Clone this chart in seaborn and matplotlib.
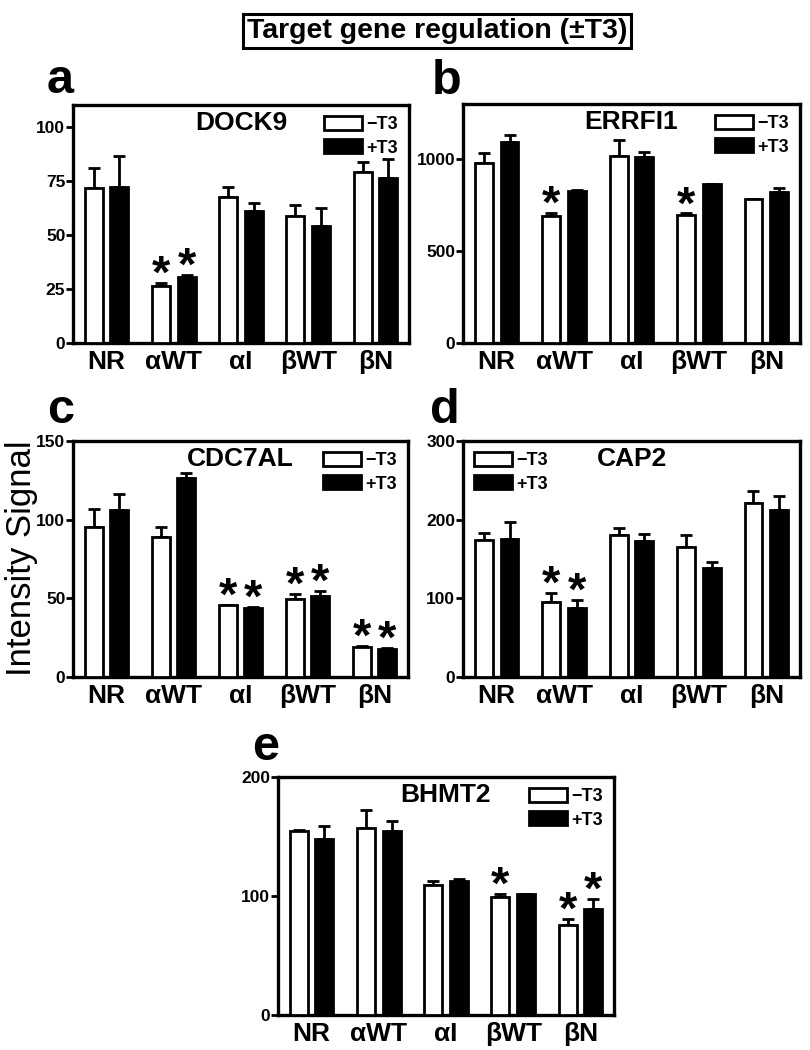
import numpy as np
import pandas as pd
import matplotlib
matplotlib.use("Agg")
import matplotlib.pyplot as plt
from matplotlib.container import BarContainer
import seaborn as sns

# ---------------- data ----------------
groups = ["NR", "αWT", "αI", "βWT", "βN"]
treatments = ["\u2212T3", "+T3"]

dock9_minus = [71.5, 26.2, 67.7, 58.5, 78.9]
dock9_plus = [72.3, 30.3, 61.0, 54.3, 76.2]
dock9_err_minus = [9.3, 1.5, 4.3, 5.3, 4.9]
dock9_err_plus = [14.3, 1.2, 3.6, 8.0, 8.7]

errfi1_minus = [978, 691, 1015, 696, 782]
errfi1_plus = [1091, 827, 1013, 864, 824]
errfi1_err_minus = [55, 18, 89, 9, 3]
errfi1_err_plus = [40, 4, 27, 2, 20]

cdc7al_minus = [95.5, 89.2, 45.6, 49.4, 19.0]
cdc7al_plus = [105.9, 126.8, 43.7, 51.3, 17.7]
cdc7al_err_minus = [11.4, 6.1, 0.3, 3.4, 0.9]
cdc7al_err_plus = [10.5, 2.9, 0.7, 3.4, 0.7]

cap2_minus = [174, 95, 181, 165, 221]
cap2_plus = [176, 88, 173, 139, 212]
cap2_err_minus = [8.5, 11.5, 8, 15, 15]
cap2_err_plus = [21, 10.5, 9, 7.5, 18]

bhmt2_minus = [155, 157.5, 109.4, 99.3, 76]
bhmt2_plus = [148, 154.7, 113, 101.5, 89]
bhmt2_err_minus = [0.3, 14.5, 3.6, 2.5, 4.6]
bhmt2_err_plus = [11, 8.1, 1.7, 0.3, 8.3]

# significance flags (minus, plus)
dock9_sig = [[0, 1, 0, 0, 0], [0, 1, 0, 0, 0]]
errfi1_sig = [[0, 1, 0, 1, 0], [0, 0, 0, 0, 0]]
cdc7al_sig = [[0, 0, 1, 1, 1], [0, 0, 1, 1, 1]]
cap2_sig = [[0, 1, 0, 0, 0], [0, 1, 0, 0, 0]]
bhmt2_sig = [[0, 0, 0, 1, 1], [0, 0, 0, 0, 1]]

# ---------------- style ----------------
sns.set_theme(style="ticks")
plt.rcParams["font.family"] = ["Liberation Sans", "DejaVu Sans"]
plt.rcParams["text.color"] = "black"
plt.rcParams["axes.labelcolor"] = "black"
plt.rcParams["xtick.color"] = "black"
plt.rcParams["ytick.color"] = "black"
plt.rcParams["axes.edgecolor"] = "black"

W, H = 810, 1050
fig = plt.figure(figsize=(W / 100, H / 100), dpi=100)


def px_axes(left, top, right, bottom):
    return fig.add_axes([left / W, 1 - bottom / H, (right - left) / W, (bottom - top) / H])


panels = [
    dict(name="DOCK9", m=dock9_minus, p=dock9_plus, em=dock9_err_minus, ep=dock9_err_plus,
         sig=dock9_sig, ymax=110, ticks=[0, 25, 50, 75, 100], box=(73, 105, 409, 343),
         loc="upper right", letter="a", lpos=(47, 93)),
    dict(name="ERRFI1", m=errfi1_minus, p=errfi1_plus, em=errfi1_err_minus, ep=errfi1_err_plus,
         sig=errfi1_sig, ymax=1300, ticks=[0, 500, 1000], box=(463, 104, 800, 343),
         loc="upper right", letter="b", lpos=(432, 94)),
    dict(name="CDC7AL", m=cdc7al_minus, p=cdc7al_plus, em=cdc7al_err_minus, ep=cdc7al_err_plus,
         sig=cdc7al_sig, ymax=150, ticks=[0, 50, 100, 150], box=(73, 441, 408, 677),
         loc="upper right", letter="c", lpos=(47, 423)),
    dict(name="CAP2", m=cap2_minus, p=cap2_plus, em=cap2_err_minus, ep=cap2_err_plus,
         sig=cap2_sig, ymax=300, ticks=[0, 100, 200, 300], box=(463, 441, 800, 677),
         loc="upper left", letter="d", lpos=(430, 423)),
    dict(name="BHMT2", m=bhmt2_minus, p=bhmt2_plus, em=bhmt2_err_minus, ep=bhmt2_err_plus,
         sig=bhmt2_sig, ymax=200, ticks=[0, 100, 200], box=(278, 777, 614, 1015),
         loc="upper right", letter="e", lpos=(252, 760)),
]

for P in panels:
    ax = px_axes(*P["box"])
    df = pd.DataFrame({
        "group": groups * 2,
        "treat": [treatments[0]] * 5 + [treatments[1]] * 5,
        "value": list(P["m"]) + list(P["p"]),
    })
    sns.barplot(data=df, x="group", y="value", hue="treat", order=groups,
                hue_order=treatments, palette=["white", "black"], width=0.76, gap=0.3,
                edgecolor="black", linewidth=2.0, errorbar=None, ax=ax, legend=True,
                zorder=3)
    bar_conts = [c for c in ax.containers if isinstance(c, BarContainer)]
    errs = [P["em"], P["ep"]]
    vals = [P["m"], P["p"]]
    for k, cont in enumerate(bar_conts):
        for i, bar in enumerate(cont.patches):
            xc = bar.get_x() + bar.get_width() / 2
            ax.errorbar(xc, vals[k][i], yerr=[[0], [errs[k][i]]], fmt="none",
                        ecolor="black", elinewidth=2.0, capsize=4.5, capthick=2.0, zorder=2)
            if P["sig"][k][i]:
                ax.annotate("*", xy=(xc, vals[k][i] + errs[k][i]), xytext=(0, -3.5),
                            textcoords="offset points", ha="center", va="baseline",
                            fontsize=34, fontweight="bold")
    ax.set_ylim(0, P["ymax"])
    ax.set_xlim(-0.5, 4.5)
    ax.set_yticks(P["ticks"])
    ax.set_xlabel("")
    ax.set_ylabel("")
    for s in ax.spines.values():
        s.set_visible(True)
        s.set_linewidth(2.4)
        s.set_color("black")
    ax.tick_params(axis="y", direction="out", length=5, width=2, labelsize=12.5, pad=0.5, colors="black")
    ax.tick_params(axis="x", length=0, labelsize=19, pad=5, colors="black")
    for lab in ax.get_yticklabels() + ax.get_xticklabels():
        lab.set_fontweight("bold")
    ax.text(0.5, 0.925, P["name"], transform=ax.transAxes, ha="center", va="center",
            fontsize=19, fontweight="bold", color="black")
    sns.move_legend(ax, P["loc"], title=None, frameon=False,
                    handlelength=2.1, handleheight=0.8, handletextpad=0.25,
                    labelspacing=0.35, borderaxespad=0.3, borderpad=0.3,
                    prop={"weight": "bold", "size": 13})
    fig.text(P["lpos"][0] / W, 1 - P["lpos"][1] / H, P["letter"], ha="left", va="baseline",
             fontsize=35, fontweight="bold", color="black")

fig.text(22 / W, 1 - 558 / H, "Intensity Signal", rotation=90, ha="center", va="center",
         fontsize=25, color="black")

fig.text(437 / W, 1 - 31 / H, "Target gene regulation (\u00b1T3)", ha="center", va="center",
         fontsize=20.5, fontweight="bold", color="black",
         bbox=dict(boxstyle="square,pad=0.15", facecolor="white", edgecolor="black", linewidth=2.2))

fig.savefig("out.png", dpi=100, facecolor="white")
